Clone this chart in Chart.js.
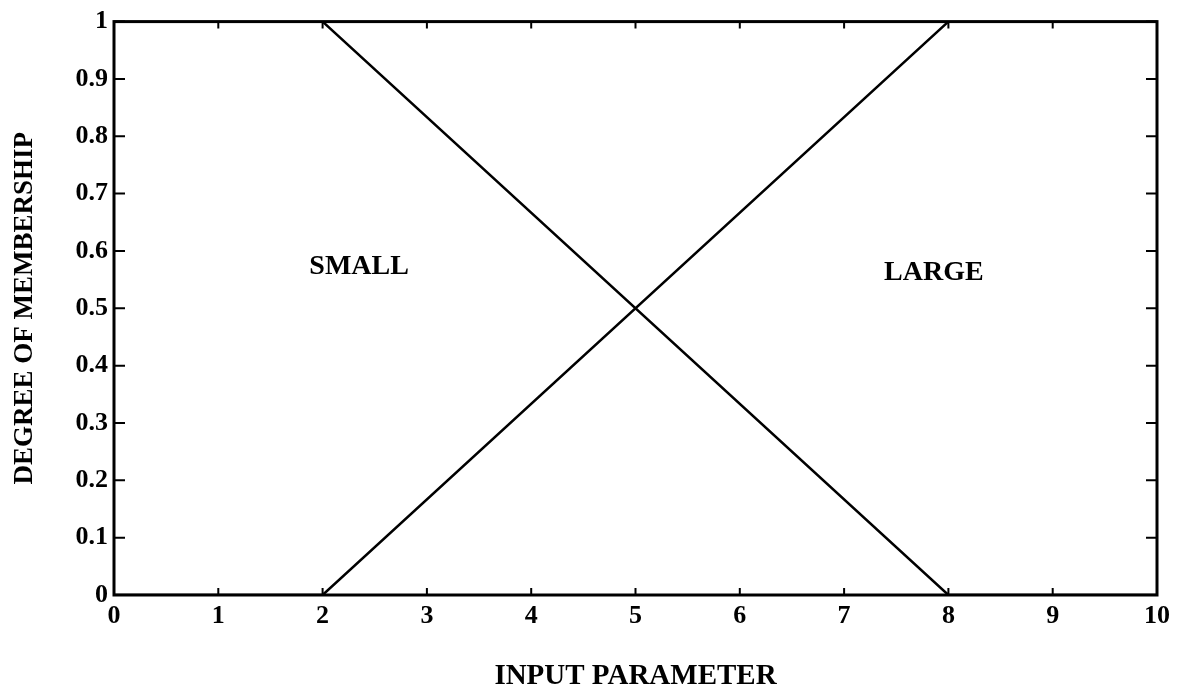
<!DOCTYPE html>
<html>
<head>
<meta charset="utf-8">
<script src="https://cdn.jsdelivr.net/npm/chart.js@4.4.0/dist/chart.umd.min.js"></script>
<style>
html, body { margin: 0; padding: 0; background: #fff; }
</style>
</head>
<body>
<canvas id="Chart1" width="1185" height="694"></canvas>
<script>
// membership functions
var xInput = [0, 2, 8, 10];
var smallData = [1, 1, 0, 0];
var largeData = [0, 0, 1, 1];

var xTicks = [0, 1, 2, 3, 4, 5, 6, 7, 8, 9, 10];
var yTicks = [0, 0.1, 0.2, 0.3, 0.4, 0.5, 0.6, 0.7, 0.8, 0.9, 1];

// text labels inside the plot (data coords)
var labelText = ["SMALL", "LARGE"];
var labelX = [2.35, 7.86];
var labelY = [0.572, 0.562];

var serif = '"Liberation Serif", "DejaVu Serif", serif';

function toPoints(xs, ys) {
    var pts = [];
    for (var i = 0; i < xs.length; i++) pts.push({x: xs[i], y: ys[i]});
    return pts;
}

// box + inward ticks + the SMALL / LARGE words
var framePlugin = {
    id: 'frame',
    afterDraw: function(chart) {
        var ctx = chart.ctx;
        var a = chart.chartArea;
        var xs = chart.scales.x;
        var ys = chart.scales.y;
        ctx.save();
        ctx.strokeStyle = '#000';
        ctx.lineWidth = 2;
        ctx.beginPath();
        xTicks.forEach(function(v) {
            var px = xs.getPixelForValue(v);
            ctx.moveTo(px, a.bottom); ctx.lineTo(px, a.bottom - 7);
            ctx.moveTo(px, a.top); ctx.lineTo(px, a.top + 7);
        });
        yTicks.forEach(function(v) {
            var py = ys.getPixelForValue(v);
            ctx.moveTo(a.left, py); ctx.lineTo(a.left + 11, py);
            ctx.moveTo(a.right, py); ctx.lineTo(a.right - 11, py);
        });
        ctx.stroke();
        ctx.lineWidth = 3;
        ctx.strokeRect(a.left, a.top, a.right - a.left, a.bottom - a.top);

        ctx.fillStyle = '#000';
        ctx.font = 'bold 28px ' + serif;
        ctx.textAlign = 'center';
        ctx.textBaseline = 'middle';
        for (var i = 0; i < labelText.length; i++) {
            ctx.fillText(labelText[i], xs.getPixelForValue(labelX[i]), ys.getPixelForValue(labelY[i]));
        }
        ctx.restore();
    }
};

var ctx1 = document.getElementById("Chart1").getContext('2d');
var myChart = new Chart(ctx1, {
    type: 'line',
    data: {
        datasets: [{
            label: 'SMALL',
            data: toPoints(xInput, smallData),
            borderColor: '#000',
            borderWidth: 2.5,
            pointRadius: 0,
            fill: false,
            tension: 0
        }, {
            label: 'LARGE',
            data: toPoints(xInput, largeData),
            borderColor: '#000',
            borderWidth: 2.5,
            pointRadius: 0,
            fill: false,
            tension: 0
        }]
    },
    options: {
        responsive: false,
        animation: false,
        devicePixelRatio: 1,
        layout: { padding: { top: 18, right: 28, left: 0, bottom: 0 } },
        plugins: {
            legend: { display: false },
            tooltip: { enabled: false }
        },
        scales: {
            x: {
                type: 'linear',
                min: 0,
                max: 10,
                afterBuildTicks: function(scale) {
                    scale.ticks = xTicks.map(function(v) { return {value: v}; });
                },
                afterFit: function(scale) { scale.height = 99; },
                grid: { display: false, drawTicks: false },
                border: { display: false },
                ticks: {
                    color: '#000',
                    padding: 6,
                    maxRotation: 0,
                    font: { family: serif, size: 26, weight: 'bold' }
                },
                title: {
                    display: true,
                    text: 'INPUT PARAMETER',
                    color: '#000',
                    padding: { top: 0, bottom: 0 },
                    font: { family: serif, size: 29, weight: 'bold' }
                }
            },
            y: {
                type: 'linear',
                min: 0,
                max: 1,
                afterBuildTicks: function(scale) {
                    scale.ticks = yTicks.map(function(v) { return {value: v}; });
                },
                afterFit: function(scale) { scale.width = 114; },
                grid: { display: false, drawTicks: false },
                border: { display: false },
                ticks: {
                    color: '#000',
                    padding: 6,
                    font: { family: serif, size: 26, weight: 'bold' },
                    callback: function(v) { return String(Math.round(v * 10) / 10); }
                },
                title: {
                    display: true,
                    text: 'DEGREE OF MEMBERSHIP',
                    color: '#000',
                    padding: { top: 9, bottom: 0 },
                    font: { family: serif, size: 27, weight: 'bold' }
                }
            }
        }
    },
    plugins: [framePlugin]
});
</script>
</body>
</html>
